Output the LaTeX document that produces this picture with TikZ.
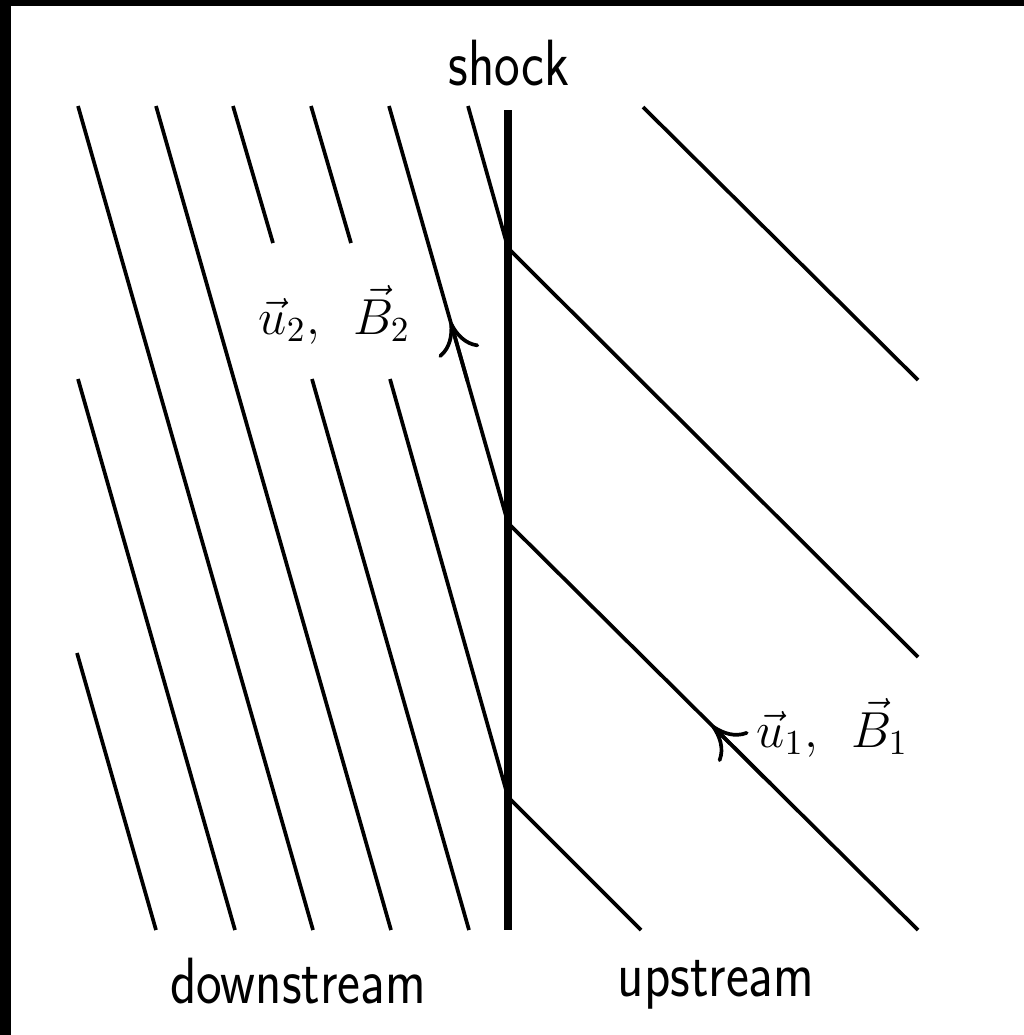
\documentclass[tikz,border=0pt]{standalone}
\usetikzlibrary{arrows.meta,calc}
\begin{document}
\begin{tikzpicture}[x=0.01cm,y=-0.01cm,
  fieldline/.style={line width=1.05pt},
  shockline/.style={line width=2.4pt},
  flowarrow/.style={line width=1.05pt,-{Computer Modern Rightarrow[length=9pt,width=12pt]}},
  lbl/.style={font=\sffamily\fontsize{15.5}{18}\selectfont, inner sep=0pt},
  mathlbl/.style={font=\fontsize{14}{16}\selectfont, inner sep=0pt}]
\useasboundingbox (0,0) rectangle (1024,1035);
\fill[white] (0,0) rectangle (1024,1035);
\fill[black] (0,0) rectangle (11,1035);
\fill[black] (0,0) rectangle (1024,6);
% shock
\coordinate (S0) at (508,110);
\coordinate (S4) at (508,930);
\coordinate (P1) at (508,248);
\coordinate (P2) at (508,523);
\coordinate (P3) at (508,797);
% downstream field lines
\coordinate (d1a) at (78,106);  \coordinate (d1b) at (313,930);
\coordinate (d2a) at (156,106); \coordinate (d2b) at (391,930);
\coordinate (d3a) at (233,106); \coordinate (d3b) at (273,243);
\coordinate (d4a) at (311,106); \coordinate (d4b) at (351,243);
\coordinate (d5a) at (389,106);
\coordinate (d6a) at (468,106);
\coordinate (d7a) at (78,379);  \coordinate (d7b) at (235,930);
\coordinate (d8a) at (312,379); \coordinate (d8b) at (469,930);
\coordinate (d9a) at (390,379);
\coordinate (d10a) at (77,653); \coordinate (d10b) at (156,930);
% upstream field lines
\coordinate (u1b) at (918,657);
\coordinate (u2b) at (918,930);
\coordinate (u3b) at (641,930);
\coordinate (u4a) at (643,107); \coordinate (u4b) at (918,380);

\draw[fieldline] (d1a) -- (d1b);
\draw[fieldline] (d2a) -- (d2b);
\draw[fieldline] (d3a) -- (d3b);
\draw[fieldline] (d4a) -- (d4b);
\draw[fieldline] (d5a) -- (P2);
\draw[fieldline] (d6a) -- (P1);
\draw[fieldline] (d7a) -- (d7b);
\draw[fieldline] (d8a) -- (d8b);
\draw[fieldline] (d9a) -- (P3);
\draw[fieldline] (d10a) -- (d10b);

\draw[fieldline] (P1) -- (u1b);
\draw[fieldline] (P2) -- (u2b);
\draw[fieldline] (P3) -- (u3b);
\draw[fieldline] (u4a) -- (u4b);

\draw[shockline] (S0) -- (S4);

% arrows
\draw[flowarrow] ($(d5a)!0.66!(P2)$) -- ($(d5a)!0.518!(P2)$);
\draw[flowarrow] ($(P2)!0.64!(u2b)$) -- ($(P2)!0.4976!(u2b)$);

% labels
\node[lbl, anchor=base] (shock) at (509,85) {\scalebox{1}[1.2]{shock}};
\node[lbl, anchor=base] (down) at (298,1003) {\scalebox{1}[1.2]{downstream}};
\node[lbl, anchor=base] (up) at (716,996) {\scalebox{1}[1.2]{upstream}};
\node[mathlbl, anchor=base west] (lab2) at (258,334) {$\vec u_2,\hspace{0.5em}\vec B_2$};
\node[mathlbl, anchor=base west] (lab1) at (756,747) {$\vec u_1,\hspace{0.5em}\vec B_1$};
\end{tikzpicture}
\end{document}
